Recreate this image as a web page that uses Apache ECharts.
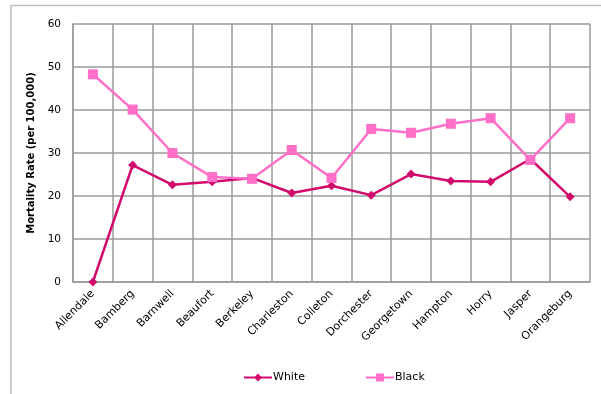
<!DOCTYPE html>
<html>
<head>
<meta charset="utf-8">
<script src="https://cdn.jsdelivr.net/npm/echarts@6/dist/echarts.min.js"></script>
<style>
  html, body { margin: 0; padding: 0; background: #fff; }
  #chart { width: 601px; height: 394px; }
</style>
</head>
<body>
<div id="chart"></div>
<script>
const counties = ['Allendale', 'Bamberg', 'Barnwell', 'Beaufort', 'Berkeley', 'Charleston', 'Colleton',
    'Dorchester', 'Georgetown', 'Hampton', 'Horry', 'Jasper', 'Orangeburg'];
const whiteRates = [0, 27.2, 22.6, 23.3, 24.2, 20.7, 22.4, 20.2, 25.1, 23.5, 23.3, 28.6, 19.8];
const blackRates = [48.3, 40.1, 30, 24.4, 24, 30.7, 24.2, 35.6, 34.7, 36.8, 38.1, 28.4, 38.1];
const yTicks = [0, 10, 20, 30, 40, 50, 60];

const chartDom = document.getElementById('chart');
const myChart = echarts.init(chartDom);

const font = 'DejaVu Sans';

const option = {
    animation: false,
    textStyle: { fontFamily: font },
    graphic: [{
        type: 'polyline',
        shape: { points: [[11, 394], [11, 5.5], [601, 5.5]] },
        style: { stroke: '#bfbfbf', lineWidth: 1.5, fill: null }
    }],
    grid: { left: 73, right: 11, top: 24, bottom: 112 },
    legend: {
        data: ['White', 'Black'],
        bottom: 6,
        left: 238,
        itemGap: 60,
        itemWidth: 28,
        itemHeight: 10,
        textStyle: { fontSize: 11, color: '#000', padding: [0, 0, 0, -4] }
    },
    xAxis: {
        type: 'category',
        data: counties,
        boundaryGap: true,
        axisLine: { lineStyle: { color: '#9a9a9a', width: 1.5 } },
        axisTick: { show: false },
        splitLine: { show: true, interval: 0, lineStyle: { color: '#9a9a9a', width: 1.5 } },
        axisLabel: { interval: 0, rotate: 45, fontSize: 11, color: '#000', margin: 10 }
    },
    yAxis: {
        type: 'value',
        min: yTicks[0],
        max: yTicks[yTicks.length - 1],
        interval: 10,
        name: 'Mortality Rate (per 100,000)',
        nameLocation: 'middle',
        nameGap: 36,
        nameTextStyle: { fontSize: 10, fontWeight: 'bold', color: '#000' },
        axisLine: { show: true, lineStyle: { color: '#9a9a9a', width: 1.5 } },
        axisTick: { show: false },
        splitLine: { lineStyle: { color: '#9a9a9a', width: 1.5 } },
        axisLabel: { fontSize: 10.5, color: '#000', margin: 12 }
    },
    series: [
        {
            name: 'White',
            type: 'line',
            data: whiteRates,
            symbol: 'diamond',
            symbolSize: 9,
            color: '#d10a6b',
            lineStyle: { width: 2.5 }
        },
        {
            name: 'Black',
            type: 'line',
            data: blackRates,
            symbol: 'rect',
            symbolSize: 10,
            color: '#ff6ec7',
            lineStyle: { width: 2.5 }
        }
    ]
};

myChart.setOption(option);
</script>
</body>
</html>
